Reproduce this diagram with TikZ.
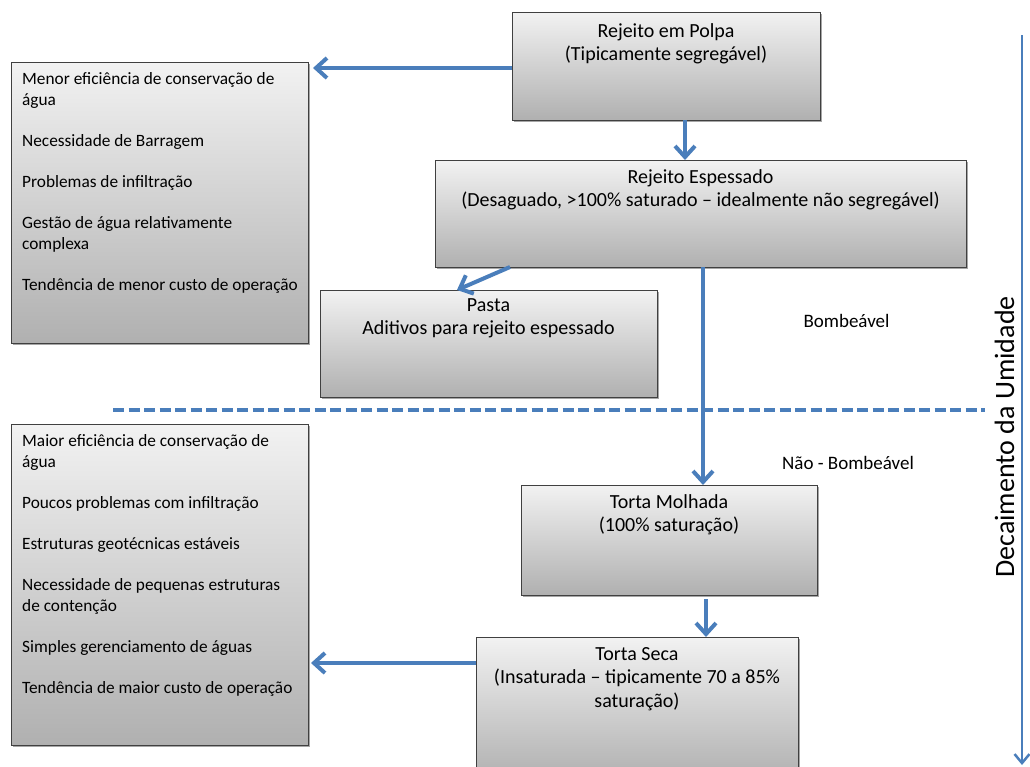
\documentclass[tikz,border=0pt]{standalone}
\usepackage{fontspec}
\setmainfont{Carlito}
\usetikzlibrary{arrows.meta,shadows,calc}
\definecolor{arrblue}{HTML}{4A7EBB}
\definecolor{boxtop}{HTML}{F2F2F2}
\definecolor{boxbot}{HTML}{B0B0B0}
\definecolor{boxline}{HTML}{404040}
\tikzset{
  box/.style={draw=boxline, line width=1pt, top color=boxtop, bottom color=boxbot,
    drop shadow={shadow xshift=1.5pt, shadow yshift=-2pt, opacity=0.35, fill=black},
    inner sep=0pt, outer sep=0pt},
  ttl/.style={font=\fontsize{20}{23.5}\selectfont, anchor=base, inner sep=0pt},
  lst/.style={font=\fontsize{17.3}{21}\selectfont, anchor=base west, inner sep=0pt},
  lbl/.style={font=\fontsize{19}{23}\selectfont, anchor=base, inner sep=0pt},
  arr/.style={draw=arrblue, line width=4pt, -{Straight Barb[length=11pt, width=20pt]}},
  dashline/.style={draw=arrblue, line width=4pt, dash pattern=on 11pt off 4.5pt},
  axisarr/.style={draw=arrblue, line width=2.5pt, -{Straight Barb[length=9pt, width=15pt]}}
}
\begin{document}
\begin{tikzpicture}[x=1pt,y=-1pt]
\clip (0,0) rectangle (1030,766);
\fill[white] (0,0) rectangle (1030,766);

% boxes
\node[box, minimum width=308pt, minimum height=108pt] (polpa) at (666,66) {};
\node[box, minimum width=531pt, minimum height=107pt] (espessado) at (700.5,213.5) {};
\node[box, minimum width=337pt, minimum height=107pt] (pasta) at (488.5,343.5) {};
\node[box, minimum width=296pt, minimum height=110pt] (molhada) at (669,540) {};
\node[box, minimum width=322pt, minimum height=143pt] (seca) at (637,708.5) {};
\node[box, minimum width=297pt, minimum height=281pt] (topleft) at (159.5,202.5) {};
\node[box, minimum width=297pt, minimum height=321pt] (botleft) at (159.5,584.5) {};

% box texts
\node[ttl] (polpaT) at (666,37) {\begin{tabular}[t]{@{}c@{}}Rejeito em Polpa\\(Tipicamente segregável)\end{tabular}};
\node[ttl] (espessadoT) at (700.5,183) {\begin{tabular}[t]{@{}c@{}}Rejeito Espessado\\(Desaguado, >100\% saturado – idealmente  não segregável)\end{tabular}};
\node[ttl] (pastaT) at (488.5,311) {\begin{tabular}[t]{@{}c@{}}Pasta\\Aditivos para rejeito espessado\end{tabular}};
\node[ttl] (molhadaT) at (669,508) {\begin{tabular}[t]{@{}c@{}}Torta Molhada\\(100\% saturação)\end{tabular}};
\node[ttl] (secaT) at (637,660) {\begin{tabular}[t]{@{}c@{}}Torta Seca\\(Insaturada – tipicamente 70 a 85\%\\saturação)\end{tabular}};

\node[lst] (topleftT) at (22,84) {\begin{tabular}[t]{@{}l@{}}Menor eficiência de conservação de\\água\\[20pt]Necessidade de Barragem\\[20pt]Problemas de infiltração\\[20pt]Gestão de água relativamente\\complexa\\[20pt]Tendência de menor custo de operação\end{tabular}};
\node[lst] (botleftT) at (22,446) {\begin{tabular}[t]{@{}l@{}}Maior eficiência de conservação de\\água\\[20pt]Poucos problemas com infiltração\\[20pt]Estruturas geotécnicas estáveis\\[20pt]Necessidade de pequenas estruturas\\de contenção\\[20pt]Simples gerenciamento de águas\\[20pt]Tendência de maior custo de operação\end{tabular}};

% labels
\node[lbl] (bomb) at (846.5,327) {Bombeável};
\node[lbl] (naobomb) at (848,469) {Não - Bombeável};
\node[font=\fontsize{28}{30}\selectfont, anchor=base, rotate=90, inner sep=0pt] (decai) at (1014,437) {Decaimento da Umidade};

% helper coordinates
\coordinate (xa) at (685,0);
\coordinate (ya) at (0,68);
\coordinate (xb) at (510,0);
\coordinate (xc) at (457,0);
\coordinate (xd) at (703,0);
\coordinate (xe) at (706,0);
\coordinate (ye) at (0,663);
\coordinate (d1) at (113,410);
\coordinate (d2) at (985,410);
\coordinate (v1) at (1022,35);
\coordinate (v2) at (1022,765);

% connectors
\draw[arr, shorten >=5pt] (polpa.west |- ya) -- (topleft.east |- ya);
\draw[arr] (polpa.south -| xa) -- (espessado.north -| xa);
\draw[arr] (espessado.south -| xb) -- (pasta.north -| xc);
\draw[arr] (espessado.south -| xd) -- (molhada.north -| xd);
\draw[arr, shorten <=4pt] (molhada.south -| xe) -- (seca.north -| xe);
\draw[arr, shorten >=3pt] (seca.west |- ye) -- (botleft.east |- ye);
\draw[dashline] (d1) -- (d2);
\draw[axisarr] (v1) -- (v2);
\end{tikzpicture}
\end{document}
